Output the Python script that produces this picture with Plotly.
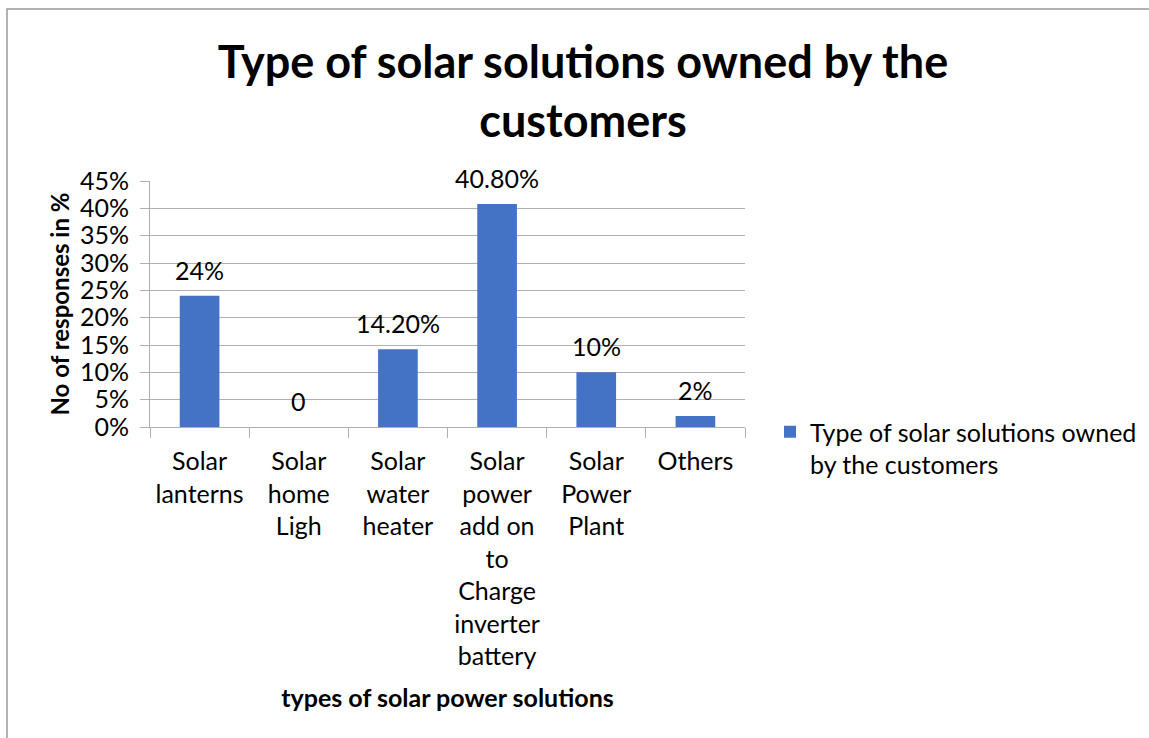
import plotly.graph_objects as go

# Survey results: share of customers owning each type of solar solution
categories = [
    "Solar<br>lanterns",
    "Solar<br>home<br>Ligh",
    "Solar<br>water<br>heater",
    "Solar<br>power<br>add on<br>to<br>Charge<br>inverter<br>battery",
    "Solar<br>Power<br>Plant",
    "Others",
]
shares_pct = [24, 0, 14.2, 40.8, 10, 2]
value_labels = ["24%", "0", "14.20%", "40.80%", "10%", "2%"]
series_name = "Type of solar solutions owned<br>by the customers"

W, H = 1149, 738
M_L, M_R, M_T, M_B = 150, 404, 181, 311
FONT = "Lato"
BAR_BLUE = "#4472C4"
GRID = "#b0b0b0"

values = [v / 100 for v in shares_pct]

fig = go.Figure()
fig.add_trace(go.Bar(
    x=categories,
    y=values,
    name=series_name,
    marker=dict(color=BAR_BLUE, line=dict(width=0)),
    width=0.4,
    showlegend=True,
))

# value labels above each bar
for cat, v, lab in zip(categories, values, value_labels):
    fig.add_annotation(
        x=cat, y=v, text=lab, showarrow=False,
        xref="x", yref="y", yanchor="middle", yshift=26,
        font=dict(family=FONT, size=25, color="#000000"),
    )

# pixel -> paper helpers for the outer chart frame
def px_x(p):
    return (p - M_L) / (W - M_L - M_R)

def px_y(p):
    return (H - M_B - p) / (H - M_T - M_B)

fig.add_shape(
    type="rect", xref="paper", yref="paper",
    x0=px_x(7), x1=px_x(W + 20), y0=px_y(H + 20), y1=px_y(9),
    line=dict(color="#999999", width=1.5), fillcolor="rgba(0,0,0,0)",
    layer="below",
)

fig.update_layout(
    width=W, height=H,
    margin=dict(l=M_L, r=M_R, t=M_T, b=M_B, autoexpand=False),
    paper_bgcolor="white", plot_bgcolor="white",
    font=dict(family=FONT, color="#000000"),
    title=dict(
        text="<b>Type of solar solutions owned by the<br>customers</b>",
        x=583 / W, xanchor="center", xref="container",
        y=1 - 78 / H, yanchor="middle", yref="container",
        font=dict(family=FONT, size=45, color="#000000"),
    ),
    showlegend=True,
    legend=dict(
        x=px_x(770), xanchor="left",
        y=px_y(409), yanchor="top",
        valign="top",
        font=dict(family=FONT, size=25, color="#000000"),
        bgcolor="rgba(0,0,0,0)",
    ),
    xaxis=dict(
        type="category",
        showline=True, linecolor=GRID, linewidth=1,
        ticks="outside", tickson="boundaries", ticklen=10, tickcolor=GRID,
        ticklabelstandoff=12,
        tickfont=dict(family=FONT, size=25, color="#000000"),
        showgrid=False, automargin=False,
        title=dict(
            text="<b>types of solar power solutions</b>",
            font=dict(family=FONT, size=25, color="#000000"),
            standoff=20,
        ),
    ),
    yaxis=dict(
        range=[0, 0.45], dtick=0.05, tickformat=".0%",
        showline=True, linecolor=GRID, linewidth=1,
        ticks="outside", ticklen=9, tickcolor=GRID,
        ticklabelstandoff=6,
        showgrid=True, gridcolor=GRID, gridwidth=1,
        zeroline=False,
        tickfont=dict(family=FONT, size=25, color="#000000"),
        automargin=False,
        title=dict(
            text="<b>No of responses in %</b>",
            font=dict(family=FONT, size=24, color="#000000"),
            standoff=3,
        ),
    ),
)

fig.write_html("out.html")
